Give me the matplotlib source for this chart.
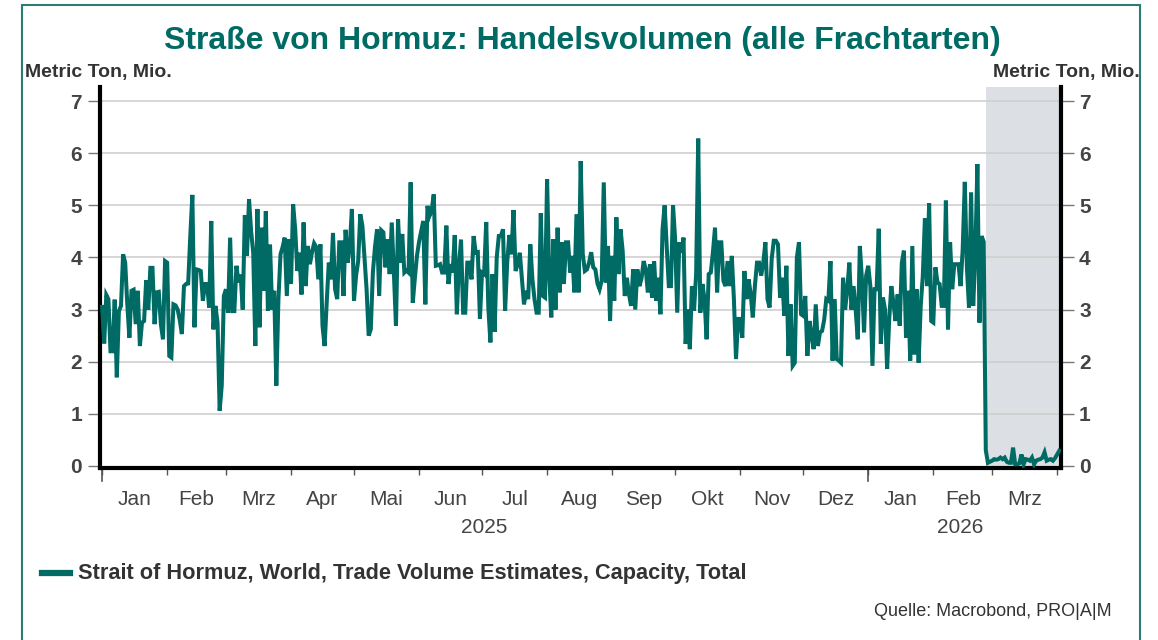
import matplotlib
matplotlib.use("Agg")
import matplotlib.pyplot as plt
import matplotlib.transforms as mtransforms
from matplotlib.patches import Rectangle
import pandas as pd

# ---------------- data (daily, million metric tons) ----------------
start_date = "2025-01-01"
v_2025_01 = [3.05, 2.35, 3.28, 3.2, 2.2, 2.2, 3.19, 1.7, 2.97, 3.07, 4.06, 3.9, 3.1, 2.46, 3.36, 3.38,
             2.72, 3.36, 2.3, 2.75, 2.78, 3.56, 3.0, 3.8, 3.8, 2.72, 3.33, 3.34, 2.72, 2.43, 3.93]
v_2025_02 = [3.9, 2.11, 2.08, 3.1, 3.08, 3.0, 2.8, 2.53, 3.45, 3.49, 3.5, 4.4, 5.2, 2.66, 3.77, 3.76,
             3.74, 3.17, 3.49, 3.49, 3.04, 4.7, 2.62, 3.07, 2.75, 1.06, 1.54, 3.26]
v_2025_03 = [3.39, 2.94, 4.38, 2.97, 2.97, 3.84, 3.52, 3.67, 3.0, 4.81, 4.03, 5.12, 4.5, 4.09, 2.3, 4.93,
             2.66, 4.57, 3.36, 4.89, 2.98, 4.25, 3.0, 3.36, 1.54, 3.2, 4.06, 4.2, 4.38, 3.26, 4.35]
v_2025_04 = [3.49, 5.02, 4.54, 3.74, 4.09, 3.29, 4.67, 3.45, 4.22, 3.87, 4.1, 4.27, 4.2, 3.58, 4.25,
             2.69, 2.3, 3.13, 3.9, 3.58, 4.47, 3.39, 3.2, 4.29, 4.29, 3.26, 4.53, 3.9, 4.22, 4.93]
v_2025_05 = [3.17, 3.65, 3.93, 4.83, 4.61, 4.0, 3.39, 2.5, 2.62, 3.71, 4.2, 4.54, 3.26, 4.52, 4.48, 3.81,
             4.35, 3.68, 4.67, 3.71, 2.69, 4.73, 3.9, 4.45, 3.71, 3.75, 3.71, 5.44, 3.13, 3.6, 4.03]
v_2025_06 = [4.3, 4.5, 4.7, 3.1, 4.99, 4.8, 4.9, 5.21, 3.84, 3.85, 3.87, 3.71, 3.71, 4.61, 3.49, 3.87,
             3.71, 4.43, 2.91, 3.84, 4.34, 2.94, 2.94, 3.9, 3.9, 3.58, 4.41, 4.09, 4.1, 2.82]
v_2025_07 = [3.71, 3.68, 4.68, 3.04, 2.37, 3.68, 2.57, 4.0, 4.41, 4.41, 4.54, 2.98, 3.9, 4.43, 4.06, 4.91,
             3.74, 3.87, 4.09, 3.6, 3.1, 3.36, 3.2, 4.25, 3.58, 3.2, 2.94, 2.94, 4.85, 3.26, 3.23]
v_2025_08 = [5.5, 3.65, 2.85, 4.35, 3.0, 4.57, 3.33, 4.29, 3.49, 4.29, 4.29, 3.71, 4.03, 3.33, 4.83, 3.33,
             5.85, 4.06, 3.74, 3.77, 3.9, 4.1, 3.81, 3.77, 3.5, 3.39, 3.55, 5.44, 3.52, 4.22, 2.78]
v_2025_09 = [4.03, 3.17, 4.77, 3.68, 4.54, 4.13, 3.26, 3.61, 3.3, 3.07, 3.77, 3.0, 3.77, 3.45, 3.6, 3.93,
             3.77, 3.33, 3.87, 3.23, 3.93, 3.17, 3.61, 2.91, 4.54, 5.0, 4.2, 3.45, 3.45, 5.0]
v_2025_10 = [4.35, 2.94, 4.29, 4.09, 4.38, 2.34, 3.0, 2.24, 3.45, 2.98, 3.68, 6.28, 2.94, 3.49, 3.2, 2.43,
             3.68, 3.71, 4.1, 4.57, 3.33, 4.29, 4.29, 3.55, 3.45, 3.93, 3.45, 4.03, 3.2, 2.05, 2.82]
v_2025_11 = [2.82, 2.46, 3.74, 3.2, 3.58, 3.3, 2.85, 3.45, 3.9, 3.9, 3.65, 3.9, 4.29, 3.2, 3.04, 3.97,
             4.32, 4.32, 4.25, 3.23, 3.61, 2.88, 3.84, 2.11, 3.1, 1.92, 1.98, 4.0, 4.29, 2.91]
v_2025_12 = [2.88, 3.26, 2.11, 2.78, 2.5, 2.24, 3.1, 2.3, 2.56, 2.59, 2.8, 3.2, 3.17, 3.93, 2.02, 3.2,
             2.05, 2.02, 1.98, 3.61, 3.0, 3.39, 3.9, 3.0, 3.45, 3.0, 2.43, 4.22, 3.58, 2.56, 3.65]
v_2026_01 = [3.84, 3.45, 1.92, 3.39, 3.39, 4.55, 2.34, 3.23, 3.0, 1.86, 2.82, 3.45, 3.13, 2.78, 3.29, 2.69,
             3.9, 4.13, 2.46, 3.36, 2.02, 4.22, 2.14, 3.39, 1.98, 3.07, 3.65, 4.75, 3.45, 5.04, 2.78]
v_2026_02 = [2.75, 3.81, 3.52, 3.49, 3.07, 3.07, 5.09, 2.62, 4.29, 3.39, 3.87, 3.87, 3.87, 3.45, 4.16, 5.45,
             3.81, 3.04, 5.25, 3.07, 4.03, 5.79, 2.75, 4.41, 4.3, 0.3, 0.06, 0.08]
v_2026_03 = [0.1, 0.13, 0.12, 0.13, 0.16, 0.13, 0.16, 0.08, 0.06, 0.06, 0.35, 0.03, 0.03, 0.05, 0.22, 0.03,
             0.13, 0.12, 0.1, 0.16, 0.03, 0.1, 0.12, 0.13, 0.16, 0.26, 0.1, 0.12, 0.13, 0.1, 0.15]
v_2026_04 = [0.22, 0.29]

shade_start = "2026-02-26"
month_labels = ["Jan", "Feb", "Mrz", "Apr", "Mai", "Jun", "Jul", "Aug", "Sep", "Okt", "Nov", "Dez",
                "Jan", "Feb", "Mrz"]
year_labels = ["2025", "2026"]
y_ticks = [0, 1, 2, 3, 4, 5, 6, 7]

title = "Straße von Hormuz: Handelsvolumen (alle Frachtarten)"
unit = "Metric Ton, Mio."
legend_label = "Strait of Hormuz, World, Trade Volume Estimates, Capacity, Total"
source = "Quelle: Macrobond, PRO|A|M"

# ---------------- build series ----------------
values = (v_2025_01 + v_2025_02 + v_2025_03 + v_2025_04 + v_2025_05 + v_2025_06 + v_2025_07 +
          v_2025_08 + v_2025_09 + v_2025_10 + v_2025_11 + v_2025_12 + v_2026_01 + v_2026_02 +
          v_2026_03 + v_2026_04)
dates = pd.date_range(start_date, periods=len(values), freq="D")

TEAL = "#006b64"
TXT = "#333333"
LAB = "#444444"

plt.rcParams["font.family"] = ["Liberation Sans", "DejaVu Sans"]

fig = plt.figure(figsize=(11.58, 6.40), dpi=100)
ax = fig.add_axes([100 / 1158, 1 - 468 / 640, (1061 - 100) / 1158, (468 - 87) / 640])

x_left = pd.Timestamp("2024-12-31")
x_right = pd.Timestamp("2026-04-02 20:00")
ax.set_xlim(x_left, x_right)
ax.set_ylim(-0.04, 7.27)

ax.axvspan(pd.Timestamp(shade_start), x_right, color="#dcdfe3", zorder=0, lw=0)

for yv in y_ticks[1:]:
    ax.axhline(yv, color="#cfcfcf", lw=1.2, zorder=1)

ax.plot(dates, values, color=TEAL, lw=2.9, zorder=3, solid_joinstyle="miter")

# spines
for s in ["left", "right", "bottom"]:
    ax.spines[s].set_color("black")
    ax.spines[s].set_linewidth(3)
ax.spines["top"].set_visible(False)

# y ticks
ax.set_yticks(y_ticks)
ax.set_yticklabels([str(v) for v in y_ticks])
ax.tick_params(axis="y", which="major", left=True, right=True, labelleft=True, labelright=True,
               length=9, width=1, color="#777777", labelsize=15, labelcolor=LAB, pad=4)
for lab in ax.get_yticklabels():
    lab.set_fontweight("bold")

# x ticks: month boundaries as ticks, labels at mid-month
month_starts = pd.date_range("2025-01-01", "2026-04-01", freq="MS")
ax.set_xticks(month_starts)
ax.set_xticklabels([])
ax.tick_params(axis="x", which="major", length=5, width=1, color="#555555", direction="out")
mids = [ms + (me - ms) / 2 for ms, me in zip(month_starts[:-1], month_starts[1:])]
ax.set_xticks(mids, minor=True)
ax.set_xticklabels(month_labels, minor=True)
ax.tick_params(axis="x", which="minor", length=0, labelsize=15, labelcolor=LAB, pad=16)

# longer year-boundary ticks
trans = mtransforms.blended_transform_factory(ax.transData, ax.transAxes)
for yb in [pd.Timestamp("2025-01-01"), pd.Timestamp("2026-01-01")]:
    ax.plot([yb, yb], [0, -0.035], transform=trans, color="#555555", lw=1.2, clip_on=False)

# year labels
ax.text(pd.Timestamp("2025-07-02"), -0.155, year_labels[0], transform=trans, ha="center", va="center",
        fontsize=15, color=LAB)
ax.text(pd.Timestamp("2026-02-14"), -0.155, year_labels[1], transform=trans, ha="center", va="center",
        fontsize=15, color=LAB)

# title and units
fig.text(582 / 1158, 1 - 41 / 640, title, ha="center", va="center", fontsize=23, fontweight="bold",
         color=TEAL)
fig.text(25 / 1158, 1 - 72 / 640, unit, ha="left", va="center", fontsize=14, fontweight="bold", color=TXT)
fig.text(1140 / 1158, 1 - 72 / 640, unit, ha="right", va="center", fontsize=14, fontweight="bold", color=TXT)

# legend
fig.lines.append(plt.Line2D([42 / 1158, 70 / 1158], [1 - 573 / 640, 1 - 573 / 640], transform=fig.transFigure,
                            color=TEAL, lw=4.5))
fig.text(78 / 1158, 1 - 573 / 640, legend_label, ha="left", va="center", fontsize=15.7, fontweight="bold",
         color=TXT)

# source
fig.text(1112 / 1158, 1 - 611 / 640, source, ha="right", va="center", fontsize=13, color=TXT)

# frame
fig.patches.append(Rectangle((22 / 1158, -0.02), (1140 - 22) / 1158, 1.02 - 5 / 640, transform=fig.transFigure,
                             fill=False, edgecolor="#2b7d74", lw=1.5))

fig.savefig("out.png", dpi=100)
